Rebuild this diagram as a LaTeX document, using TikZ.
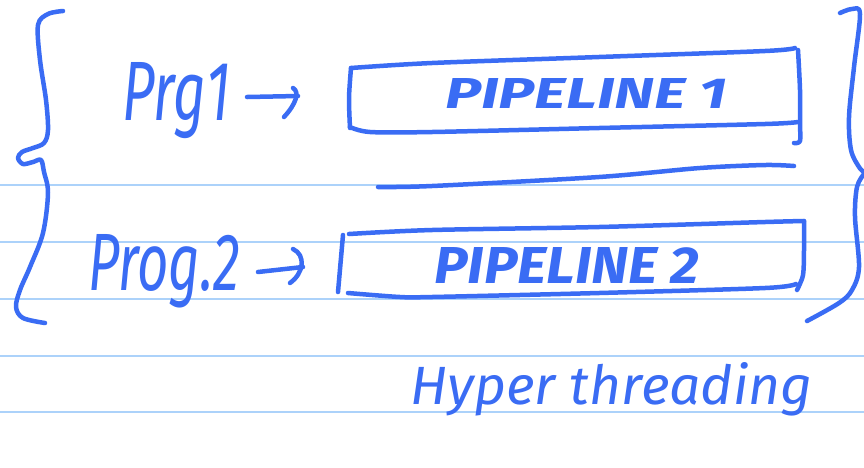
\documentclass[tikz,border=0pt]{standalone}
\usepackage{fontspec}
\usepackage{graphicx}
\setmainfont{Fira Sans}
\definecolor{ink}{RGB}{58,108,244}
\definecolor{ruling}{RGB}{172,210,250}
\begin{document}
\begin{tikzpicture}[x=1pt,y=-1pt,
  pen/.style={draw=ink,line width=4.5pt,line cap=round,line join=round},
  rulingline/.style={draw=ruling,line width=1.8pt},
  hand/.style={text=ink,anchor=base west,inner sep=0pt,font=\itshape},
  handbold/.style={hand,font=\bfseries\itshape}]
\useasboundingbox (0,0) rectangle (864,467);
\fill[white] (0,0) rectangle (864,467);

% notebook ruling
\foreach \y in {185,242,299,356,412}
  \draw[rulingline] (0,\y) -- (864,\y);

% left brace with its curl in the middle
\draw[pen] plot[smooth,tension=0.55] coordinates {(63,11)(48,14)(38,25)(40,60)(46,100)(48,130)(44,143)(33,148)(22,152)(18,158)(23,164)(33,162)(41,160)(44,172)(48,193)(43,233)(30,267)(20,290)(16,307)(23,318)(45,323)};

% right brace
\draw[pen] plot[smooth,tension=0.55] coordinates {(840,13)(852,9)(860,14)(854,67)(849,117)(851,150)(859,167)(864,172)};
\draw[pen] plot[smooth,tension=0.55] coordinates {(864,174)(857,187)(855,217)(859,267)(852,290)(839,303)(807,321)};

% labels
\node[hand] (prg1) at (122,120) {\resizebox{108pt}{58pt}{Prg1}};
\node[hand] (prog2) at (88,290) {\resizebox{152pt}{56pt}{Prog.2}};
\node[handbold] (pipe1) at (445,108) {\resizebox{282pt}{30pt}{PIPELINE 1}};
\node[handbold] (pipe2) at (434,283) {\resizebox{265pt}{36pt}{PIPELINE 2}};
\node[hand] (hyper) at (410,404) {\resizebox{402pt}{42pt}{Hyper threading}};

% arrow from Prg1
\coordinate (a1s) at (247,97);
\coordinate (a1e) at (298,96);
\draw[pen] (a1s) -- (a1e);
\draw[pen] (293,88) .. controls (300,92) and (296,104) .. (284,117);

% arrow from Prog.2
\coordinate (a2s) at (258,272);
\coordinate (a2e) at (303,267);
\draw[pen] (a2s) -- (a2e);
\draw[pen] (293,249) .. controls (306,255) and (304,273) .. (290,283);

% box around PIPELINE 1
\draw[pen] plot[smooth,tension=0.5] coordinates {(350,128)(349,98)(351,68)};
\draw[pen] plot[smooth,tension=0.5] coordinates {(351,68)(432,63)(599,57)(765,51)(795,48)};
\draw[pen] plot[smooth,tension=0.5] coordinates {(798,50)(800,90)(800,123)(800,141)(794,143)};
\draw[pen] plot[smooth,tension=0.5] coordinates {(350,127)(370,132)(432,132)(599,128)(765,124)(798,122)};

% line under the first pipeline
\draw[pen] plot[smooth,tension=0.5] coordinates {(378,187)(432,186)(599,177)(700,168)(765,165)(794,166)};

% box around PIPELINE 2
\draw[pen] (343,235) -- (338,292);
\draw[pen] plot[smooth,tension=0.5] coordinates {(349,234)(432,230)(599,227)(765,222)(804,221)};
\draw[pen] plot[smooth,tension=0.5] coordinates {(804,221)(804,250)(803,275)(797,290)};
\draw[pen] plot[smooth,tension=0.5] coordinates {(348,293)(400,297)(432,297)(599,293)(765,288)(796,284)};
\end{tikzpicture}
\end{document}
